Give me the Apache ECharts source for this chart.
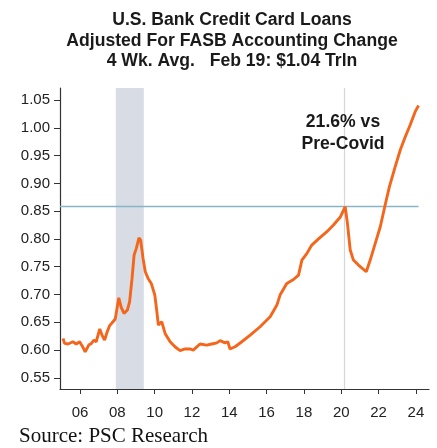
<!DOCTYPE html>
<html>
<head>
<meta charset="utf-8">
<script src="https://cdn.jsdelivr.net/npm/echarts@6/dist/echarts.min.js"></script>
<style>
  html, body { margin: 0; padding: 0; background: #fff; }
  #chart { width: 437px; height: 448px; }
</style>
</head>
<body>
<div id="chart"></div>
<script>
// Credit card loans, 4-week average, trillions of USD (decimal year, value)
const years = [2005.09, 2005.18, 2005.36, 2005.62, 2005.80, 2005.98, 2006.11, 2006.28, 2006.47, 2006.61,
  2006.75, 2006.87, 2007.06, 2007.18, 2007.32, 2007.46, 2007.59, 2007.77, 2007.89, 2008.08,
  2008.21, 2008.36, 2008.54, 2008.66, 2008.79, 2008.90, 2009.02, 2009.16, 2009.25, 2009.38,
  2009.50, 2009.65, 2009.82, 2010.01, 2010.11, 2010.20, 2010.38, 2010.56, 2010.83, 2011.09,
  2011.36, 2011.63, 2011.90, 2012.07, 2012.43, 2012.79, 2013.06, 2013.33, 2013.51, 2013.77,
  2013.92, 2014.04, 2014.31, 2014.67, 2015.12, 2015.65, 2016.19, 2016.55, 2016.72, 2017.08,
  2017.44, 2017.71, 2017.89, 2018.16, 2018.42, 2018.78, 2019.23, 2019.58, 2019.94, 2020.21,
  2020.33, 2020.48, 2020.65, 2020.92, 2021.01, 2021.34, 2021.55, 2021.82, 2022.09, 2022.35,
  2022.58, 2022.89, 2023.16, 2023.43, 2023.69, 2023.96, 2024.14];
const loans = [0.621, 0.612, 0.611, 0.615, 0.611, 0.615, 0.608, 0.597, 0.609, 0.612,
  0.618, 0.615, 0.638, 0.627, 0.618, 0.633, 0.644, 0.651, 0.656, 0.694,
  0.677, 0.666, 0.672, 0.687, 0.729, 0.771, 0.783, 0.802, 0.798, 0.765,
  0.741, 0.729, 0.720, 0.699, 0.672, 0.645, 0.651, 0.630, 0.615, 0.606,
  0.599, 0.602, 0.602, 0.600, 0.611, 0.609, 0.611, 0.613, 0.617, 0.613,
  0.615, 0.602, 0.606, 0.615, 0.627, 0.642, 0.660, 0.681, 0.699, 0.720,
  0.727, 0.735, 0.762, 0.774, 0.789, 0.800, 0.813, 0.825, 0.839, 0.858,
  0.828, 0.780, 0.762, 0.753, 0.750, 0.741, 0.762, 0.792, 0.822, 0.861,
  0.894, 0.930, 0.960, 0.984, 1.005, 1.029, 1.040];

// Recession band (Dec 2007 - Jun 2009), pre-Covid level and Covid marker
const recession = [2007.92, 2009.42];
const preCovidLevel = 0.858;
const covidStart = 2020.16;

const xRange = [2004.93, 2024.7];
const yRange = [0.53, 1.0716];
const yTicks = [0.55, 0.60, 0.65, 0.70, 0.75, 0.80, 0.85, 0.90, 0.95, 1.00, 1.05];
const xTicks = [2006, 2008, 2010, 2012, 2014, 2016, 2018, 2020, 2022, 2024];

const titleLines = ['U.S. Bank Credit Card Loans', 'Adjusted For FASB Accounting Change', '4 Wk. Avg.   Feb 19: $1.04 Trln'];
const noteLines = ['21.6% vs', 'Pre-Covid'];
const sourceText = 'Source: PSC Research';

const chart = echarts.init(document.getElementById('chart'), null, { renderer: 'canvas' });

const sans = '"Liberation Sans", Arial, sans-serif';
const titleY = [20, 41, 61];
const noteY = [122, 144];

const graphics = [];
titleLines.forEach((t, i) => graphics.push({
  type: 'text', x: 232, y: titleY[i],
  style: { text: t, font: 'bold 17.6px ' + sans, fill: '#1a1a1a', textAlign: 'center', textVerticalAlign: 'middle' }
}));
noteLines.forEach((t, i) => graphics.push({
  type: 'text', x: 343, y: noteY[i], z: 10,
  style: { text: t, font: 'bold 17.6px ' + sans, fill: '#1a1a1a', textAlign: 'center', textVerticalAlign: 'middle' }
}));
graphics.push({
  type: 'text', x: 19, y: 436,
  style: { text: sourceText, font: '21px "Liberation Serif", "Times New Roman", serif', fill: '#111', textAlign: 'left', textVerticalAlign: 'middle' }
});

const lastYear = years[years.length - 1];

chart.setOption({
  animation: false,
  backgroundColor: '#ffffff',
  grid: { left: 60, right: 8, top: 88, bottom: 59, containLabel: false },
  xAxis: {
    type: 'value',
    min: xRange[0], max: xRange[1],
    splitLine: { show: false },
    axisLine: { lineStyle: { color: '#333', width: 1.2 } },
    axisTick: { show: true, length: 5, customValues: xTicks, lineStyle: { color: '#333' } },
    axisLabel: {
      customValues: xTicks, margin: 16, color: '#222', fontSize: 15, fontFamily: sans,
      formatter: v => String(Math.round(v) % 100).padStart(2, '0')
    }
  },
  yAxis: {
    type: 'value',
    min: yRange[0], max: yRange[1],
    splitLine: { show: false },
    axisLine: { show: true, lineStyle: { color: '#333', width: 1.2 } },
    axisTick: { show: true, length: 6, customValues: yTicks, lineStyle: { color: '#333' } },
    axisLabel: {
      customValues: yTicks, margin: 10, color: '#222', fontSize: 15, fontFamily: sans,
      formatter: v => v.toFixed(2)
    }
  },
  graphic: graphics,
  series: [{
    type: 'line',
    data: years.map((y, i) => [y, loans[i]]),
    showSymbol: false,
    lineStyle: { color: '#f4661b', width: 2.9 },
    z: 5,
    markArea: {
      silent: true,
      itemStyle: { color: '#d8dce5' },
      data: [[{ xAxis: recession[0] }, { xAxis: recession[1] }]]
    },
    markLine: {
      silent: true,
      symbol: 'none',
      label: { show: false },
      data: [
        [
          { coord: [xRange[0], preCovidLevel], lineStyle: { color: '#86b6c6', width: 1.4, type: 'solid' } },
          { coord: [lastYear, preCovidLevel] }
        ],
        { xAxis: covidStart, lineStyle: { color: '#d3d7dc', width: 1.2, type: 'solid' } }
      ]
    }
  }]
});
</script>
</body>
</html>
